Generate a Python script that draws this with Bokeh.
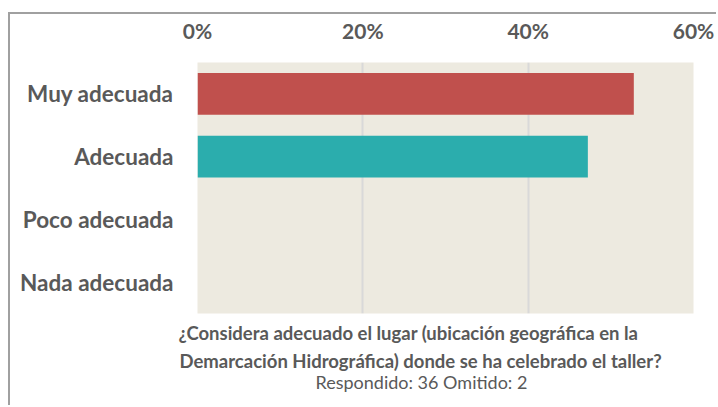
from bokeh.plotting import figure
from bokeh.models import FactorRange, Range1d, FixedTicker, NumeralTickFormatter, Title, ColumnDataSource
from bokeh.embed import file_html
from bokeh.resources import INLINE

categories = ["Muy adecuada", "Adecuada", "Poco adecuada", "Nada adecuada"]
values = [0.5278, 0.4722, 0.0, 0.0]
bar_colors = ["#C0504D", "#2BADAD", "#8064A2", "#F79646"]
tick_values = [0.0, 0.2, 0.4, 0.6]
title_line1 = "¿Considera adecuado el lugar (ubicación geográfica en la"
title_line2 = "Demarcación Hidrográfica) donde se ha celebrado el taller?"
subtitle = "Respondido: 36 Omitido: 2"

FONT = "Lato"
GRAY = "#595959"

src = ColumnDataSource(dict(cat=categories, val=values, color=bar_colors))

p = figure(
    width=708, height=393,
    y_range=FactorRange(factors=list(reversed(categories)), range_padding=0),
    x_range=Range1d(0, 0.6),
    x_axis_location="above",
    output_backend="svg", toolbar_location=None,
    min_border_left=187, min_border_right=25, min_border_top=47, min_border_bottom=94,
)
p.styles = {"margin-left": "8px", "margin-top": "12px",
            "border-left": "2px solid #a0a0a0", "border-top": "2px solid #a0a0a0"}

p.hbar(y="cat", right="val", left=0, height=0.667, color="color", line_color=None, source=src)

p.background_fill_color = "#EDEAE0"
p.border_fill_color = "white"
p.outline_line_color = None

p.xgrid.ticker = FixedTicker(ticks=tick_values)
p.xgrid.grid_line_color = "#D9D9D9"
p.xgrid.grid_line_width = 2
p.ygrid.grid_line_color = None

xa = p.xaxis[0]
xa.ticker = FixedTicker(ticks=tick_values)
xa.formatter = NumeralTickFormatter(format="0%")
xa.axis_line_color = None
xa.major_tick_line_color = None
xa.minor_tick_line_color = None
xa.major_label_text_font = FONT
xa.major_label_text_font_style = "bold"
xa.major_label_text_font_size = "21px"
xa.major_label_text_color = GRAY
xa.major_label_standoff = 14

ya = p.yaxis[0]
ya.axis_line_color = None
ya.major_tick_line_color = None
ya.minor_tick_line_color = None
ya.major_label_text_font = FONT
ya.major_label_text_font_style = "bold"
ya.major_label_text_font_size = "22.5px"
ya.major_label_text_color = GRAY
ya.major_label_standoff = 18

for txt, off, style, size, standoff in [(title_line1, -19, "bold", "18.5px", 12),
                                        (title_line2, -18, "bold", "18.5px", -4),
                                        (subtitle, 118, "normal", "18px", -2)]:
    p.add_layout(Title(text=txt, align="left", offset=off, text_font=FONT,
                       text_font_style=style, text_font_size=size, text_color=GRAY,
                       standoff=standoff), "below")

open("out.html", "w").write(file_html(p, INLINE))
